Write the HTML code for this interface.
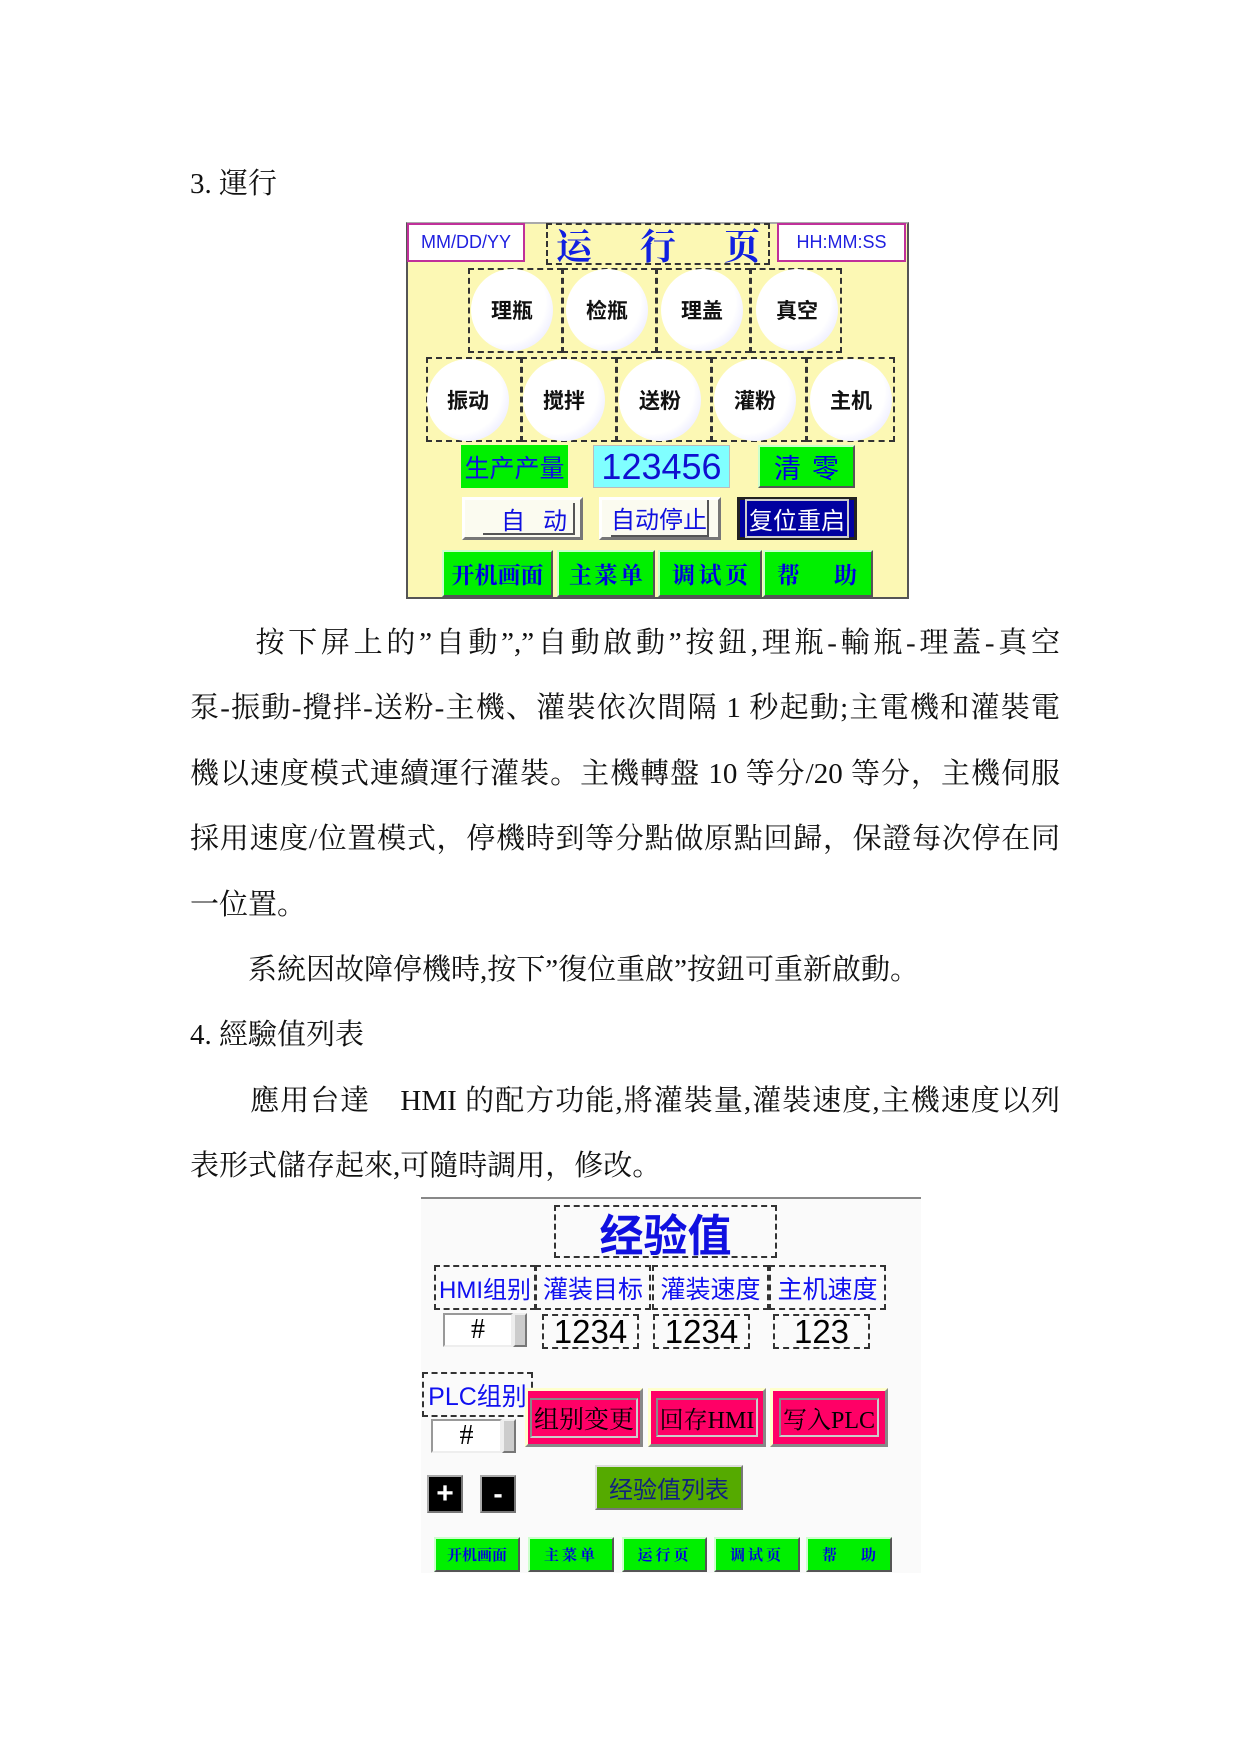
<!DOCTYPE html>
<html><head><meta charset="utf-8"><style>
body{margin:0;width:1241px;height:1754px;background:#fff;position:relative;overflow:hidden;font-family:"Liberation Serif","Noto Serif CJK SC",serif;}
.a{position:absolute;box-sizing:border-box;}
.ln{position:absolute;left:190px;width:870px;font-size:29px;line-height:40px;color:#111;white-space:nowrap;}
.j{text-align:justify;text-align-last:justify;white-space:normal;}
.s{font-family:"Liberation Sans","Noto Sans CJK SC",sans-serif;}
.d{border:2px dashed #333;}
.c{display:flex;align-items:center;justify-content:center;white-space:nowrap;overflow:visible;}
.circ{position:absolute;width:82px;height:82px;border-radius:50%;background:radial-gradient(circle at 40% 40%,#fff 60%,#eef 78%,#aab 92%,#557 100%);display:flex;align-items:center;justify-content:center;font-size:21px;color:#111;font-family:"Noto Sans CJK SC",sans-serif;font-weight:bold;}
.g{background:#00f000;color:#0000e0;border:2px solid;border-color:#cfc #555 #555 #cfc;}
.bev{border:3px solid;border-color:#fff #777 #777 #fff;}
.pk{background:#ff0066;border:3px solid;border-color:#ffc #888 #888 #ffc;}
.pk span{border:2px solid;border-color:#888 #ccc #ccc #888;padding:0 2px;}
</style></head><body>
<div class="ln" style="top:164px">3. 運行</div>

<!-- panel 1 -->
<div class="a" style="left:406px;top:222px;width:503px;height:377px;background:#fcf8b4;border:2px solid #555;border-top-color:#aaa;"></div>
<div class="a c s" style="left:407px;top:223px;width:118px;height:39px;background:#fff;border:2px solid #c0309a;color:#2020e0;font-size:18px;">MM/DD/YY</div>
<div class="a c d" style="left:546px;top:223px;width:224px;height:42px;color:#1020e0;font-size:36px;font-weight:bold;font-family:'Noto Serif CJK SC',serif;justify-content:space-between;padding:0 8px;"><span>运</span><span>行</span><span>页</span></div>
<div class="a c s" style="left:777px;top:223px;width:129px;height:39px;background:#fff;border:2px solid #c0309a;color:#2020e0;font-size:18px;">HH:MM:SS</div>
<div class="a d" style="left:468px;top:268px;width:95px;height:85px"></div>
<div class="a d" style="left:562px;top:268px;width:95px;height:85px"></div>
<div class="a d" style="left:656px;top:268px;width:95px;height:85px"></div>
<div class="a d" style="left:750px;top:268px;width:92px;height:85px"></div>
<div class="circ" style="left:471px;top:269px">理瓶</div>
<div class="circ" style="left:566px;top:269px">检瓶</div>
<div class="circ" style="left:661px;top:269px">理盖</div>
<div class="circ" style="left:756px;top:269px">真空</div>
<div class="a d" style="left:426px;top:357px;width:96px;height:85px"></div>
<div class="a d" style="left:521px;top:357px;width:96px;height:85px"></div>
<div class="a d" style="left:616px;top:357px;width:96px;height:85px"></div>
<div class="a d" style="left:711px;top:357px;width:96px;height:85px"></div>
<div class="a d" style="left:806px;top:357px;width:89px;height:85px"></div>
<div class="circ" style="left:427px;top:359px">振动</div>
<div class="circ" style="left:523px;top:359px">搅拌</div>
<div class="circ" style="left:619px;top:359px">送粉</div>
<div class="circ" style="left:714px;top:359px">灌粉</div>
<div class="circ" style="left:810px;top:359px">主机</div>
<div class="a c" style="left:461px;top:445px;width:107px;height:43px;background:#00f000;color:#1010e0;font-size:25px;font-family:'Noto Sans CJK SC',sans-serif;">生产产量</div>
<div class="a c s" style="left:593px;top:445px;width:137px;height:43px;background:#80ffff;border:1px solid #bbb;color:#1010d0;font-size:36px;">123456</div>
<div class="a c g" style="left:758px;top:445px;width:97px;height:43px;font-size:27px;font-family:'Noto Sans CJK SC',sans-serif;justify-content:space-between;padding:0 14px;"><span>清</span><span>零</span></div>
<div class="a bev" style="left:462px;top:497px;width:121px;height:43px;background:#fbfbf0;color:#1010e0;font-size:24px;font-family:'Noto Sans CJK SC',sans-serif;"><div class="a c" style="left:18px;top:3px;width:92px;height:32px;border-bottom:2px solid #555;border-right:2px solid #555;justify-content:space-between;padding:0 6px 0 18px;"><span>自</span><span>动</span></div></div>
<div class="a c bev" style="left:599px;top:497px;width:122px;height:43px;background:#fbfbf0;color:#1010e0;font-size:24px;font-family:'Noto Sans CJK SC',sans-serif;"><span style="border-bottom:2px solid #555;border-right:2px solid #555">自动停止</span></div>
<div class="a c" style="left:737px;top:497px;width:120px;height:43px;background:#0000a0;color:#fff;font-size:24px;border:3px solid #222;font-family:'Noto Sans CJK SC',sans-serif;"><span style="border:2px solid #ccc;padding:0 2px">复位重启</span></div>
<div class="a c g" style="left:442px;top:550px;width:111px;height:47px;font-size:23px;font-weight:bold;font-family:'Noto Serif CJK SC',serif;">开机画面</div>
<div class="a c g" style="left:557px;top:550px;width:98px;height:47px;font-size:23px;font-weight:bold;font-family:'Noto Serif CJK SC',serif;justify-content:space-between;padding:0 10px;"><span>主</span><span>菜</span><span>单</span></div>
<div class="a c g" style="left:658px;top:550px;width:104px;height:47px;font-size:23px;font-weight:bold;font-family:'Noto Serif CJK SC',serif;justify-content:space-between;padding:0 12px;"><span>调</span><span>试</span><span>页</span></div>
<div class="a c g" style="left:763px;top:550px;width:110px;height:47px;font-size:23px;font-weight:bold;font-family:'Noto Serif CJK SC',serif;justify-content:space-between;padding:0 14px 0 12px;"><span>帮</span><span>助</span></div>

<div class="ln j" style="top:623px">　　按下屏上的”自動”,”自動啟動”按鈕,理瓶-輸瓶-理蓋-真空</div>
<div class="ln j" style="top:688px">泵-振動-攪拌-送粉-主機、灌裝依次間隔 1 秒起動;主電機和灌裝電</div>
<div class="ln j" style="top:754px">機以速度模式連續運行灌裝。主機轉盤 10 等分/20 等分，主機伺服</div>
<div class="ln j" style="top:819px">採用速度/位置模式，停機時到等分點做原點回歸，保證每次停在同</div>
<div class="ln" style="top:885px">一位置。</div>
<div class="ln" style="top:950px">　　系統因故障停機時,按下”復位重啟”按鈕可重新啟動。</div>
<div class="ln" style="top:1015px">4. 經驗值列表</div>
<div class="ln j" style="top:1081px">　　應用台達　HMI 的配方功能,將灌裝量,灌裝速度,主機速度以列</div>
<div class="ln" style="top:1146px">表形式儲存起來,可隨時調用，修改。</div>

<!-- panel 2 -->
<div class="a" style="left:421px;top:1197px;width:500px;height:376px;background:#fafafa;border-top:2px solid #888;"></div>
<div class="a c d" style="left:554px;top:1205px;width:223px;height:53px;color:#1010e0;font-size:44px;font-weight:bold;font-family:'Noto Sans CJK SC',sans-serif;">经验值</div>
<div class="a c d" style="left:434px;top:1265px;width:102px;height:45px;color:#1010f0;font-size:24px;font-family:'Liberation Sans','Noto Sans CJK SC',sans-serif;">HMI组别</div>
<div class="a c d" style="left:535px;top:1265px;width:116px;height:45px;color:#1010f0;font-size:25px;font-family:'Noto Sans CJK SC',sans-serif;">灌装目标</div>
<div class="a c d" style="left:652px;top:1265px;width:117px;height:45px;color:#1010f0;font-size:25px;font-family:'Noto Sans CJK SC',sans-serif;">灌装速度</div>
<div class="a c d" style="left:769px;top:1265px;width:117px;height:45px;color:#1010f0;font-size:25px;font-family:'Noto Sans CJK SC',sans-serif;">主机速度</div>
<div class="a c" style="left:443px;top:1313px;width:70px;height:34px;background:#fff;border:2px solid;border-color:#999 #eee #eee #999;font-size:28px;">#</div>
<div class="a" style="left:513px;top:1313px;width:14px;height:34px;background:#ccc;border:2px solid;border-color:#eee #777 #777 #eee;"></div>
<div class="a c d s" style="left:542px;top:1314px;width:97px;height:35px;font-size:33px;">1234</div>
<div class="a c d s" style="left:653px;top:1314px;width:97px;height:35px;font-size:33px;">1234</div>
<div class="a c d s" style="left:773px;top:1314px;width:97px;height:35px;font-size:33px;">123</div>
<div class="a c d" style="left:422px;top:1372px;width:111px;height:45px;color:#1010f0;font-size:25px;font-family:'Liberation Sans','Noto Sans CJK SC',sans-serif;">PLC组别</div>
<div class="a c" style="left:431px;top:1419px;width:71px;height:34px;background:#fff;border:2px solid;border-color:#999 #eee #eee #999;font-size:28px;">#</div>
<div class="a" style="left:502px;top:1419px;width:14px;height:34px;background:#ccc;border:2px solid;border-color:#eee #777 #777 #eee;"></div>
<div class="a c pk" style="left:525px;top:1388px;width:118px;height:59px;font-size:25px;font-family:'Noto Serif CJK SC',serif;"><span>组别变更</span></div>
<div class="a c pk" style="left:648px;top:1388px;width:118px;height:59px;font-size:24px;font-family:'Liberation Serif','Noto Serif CJK SC',serif;"><span>回存HMI</span></div>
<div class="a c pk" style="left:770px;top:1388px;width:118px;height:59px;font-size:24px;font-family:'Liberation Serif','Noto Serif CJK SC',serif;"><span>写入PLC</span></div>
<div class="a c s" style="left:427px;top:1475px;width:36px;height:38px;background:#000;color:#fff;font-size:30px;font-weight:bold;border:2px solid;border-color:#aaa #777 #777 #aaa;">+</div>
<div class="a c s" style="left:480px;top:1475px;width:36px;height:38px;background:#000;color:#fff;font-size:28px;font-weight:bold;border:2px solid;border-color:#aaa #777 #777 #aaa;">-</div>
<div class="a c" style="left:595px;top:1465px;width:148px;height:45px;background:#55aa00;color:#102080;font-size:24px;border:2px solid;border-color:#ddd #777 #777 #ddd;font-family:'Noto Sans CJK SC',sans-serif;">经验值列表</div>
<div class="a c g" style="left:434px;top:1537px;width:86px;height:35px;font-size:15px;font-weight:bold;font-family:'Noto Serif CJK SC',serif;">开机画面</div>
<div class="a c g" style="left:528px;top:1537px;width:86px;height:35px;font-size:15px;font-weight:bold;letter-spacing:3px;font-family:'Noto Serif CJK SC',serif;">主菜单</div>
<div class="a c g" style="left:622px;top:1537px;width:85px;height:35px;font-size:15px;font-weight:bold;letter-spacing:3px;font-family:'Noto Serif CJK SC',serif;">运行页</div>
<div class="a c g" style="left:714px;top:1537px;width:86px;height:35px;font-size:15px;font-weight:bold;letter-spacing:3px;font-family:'Noto Serif CJK SC',serif;">调试页</div>
<div class="a c g" style="left:806px;top:1537px;width:86px;height:35px;font-size:15px;font-weight:bold;font-family:'Noto Serif CJK SC',serif;justify-content:space-between;padding:0 14px;"><span>帮</span><span>助</span></div>
</body></html>
